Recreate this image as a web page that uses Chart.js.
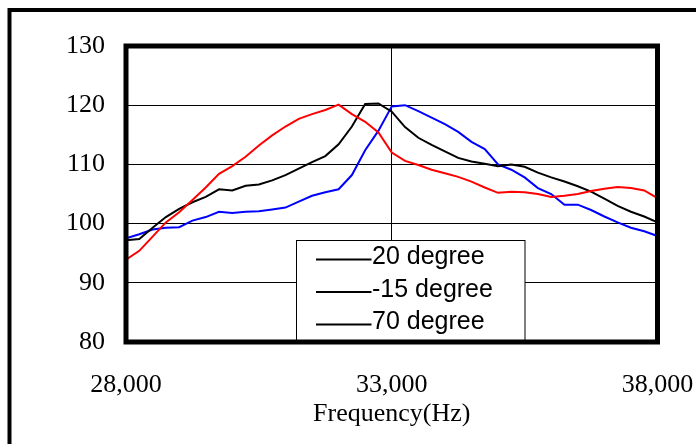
<!DOCTYPE html>
<html>
<head>
<meta charset="utf-8">
<script src="https://cdn.jsdelivr.net/npm/chart.js@4.4.1/dist/chart.umd.min.js"></script>
<style>
html,body{margin:0;padding:0;background:#fff;}
#wrap{width:696px;height:444px;position:relative;overflow:hidden;}
canvas{display:block;}
</style>
</head>
<body>
<div id="wrap"><canvas id="c" width="696" height="444"></canvas></div>
<script>
// ---- data ----
const frequencies = [28000,28250,28500,28750,29000,29250,29500,29750,30000,30250,
  30500,30750,31000,31250,31500,31750,32000,32250,32500,32750,
  33000,33250,33500,33750,34000,34250,34500,34750,35000,35250,
  35500,35750,36000,36250,36500,36750,37000,37250,37500,37750,38000];
const seriesLabels = ['20 degree', '-15 degree', '70 degree'];
const seriesRed = [93.9,95.4,97.8,100.2,101.9,104.0,106.1,108.4,109.7,111.3,
  113.2,114.9,116.4,117.7,118.5,119.2,120.1,118.5,117.2,115.4,
  112.0,110.6,109.9,109.1,108.5,107.9,107.1,106.1,105.2,105.4,
  105.3,105.0,104.5,104.7,105.0,105.5,105.9,106.2,106.0,105.6,104.3];
const seriesBlack = [97.2,97.4,99.3,101.1,102.5,103.6,104.5,105.8,105.6,106.4,
  106.6,107.3,108.2,109.3,110.4,111.4,113.4,116.4,120.2,120.3,
  118.9,116.3,114.5,113.3,112.2,111.1,110.5,110.1,109.7,110.0,
  109.6,108.6,107.8,107.1,106.3,105.4,104.2,103.0,102.0,101.2,100.2];
const seriesBlue = [97.5,98.2,99.0,99.3,99.4,100.5,101.1,102.0,101.8,102.0,
  102.1,102.4,102.7,103.7,104.7,105.3,105.8,108.2,112.4,115.7,
  119.8,120.0,119.0,117.9,116.8,115.5,113.8,112.6,110.0,109.1,
  107.8,106.0,105.0,103.2,103.2,102.3,101.2,100.2,99.3,98.7,97.9];
const xTicks = [28000, 33000, 38000];
const xTickLabels = ['28,000', '33,000', '38,000'];
const yTicks = [80, 90, 100, 110, 120, 130];
const xTitle = 'Frequency(Hz)';

const toPoints = vals => vals.map((v, i) => ({x: frequencies[i], y: v}));

const serif = "'Liberation Serif','Times New Roman',serif";
const sans = "'Liberation Sans',Arial,sans-serif";

const framePlugin = {
  id: 'frame',
  beforeDraw(chart) {
    const ctx = chart.ctx;
    ctx.save();
    ctx.fillStyle = '#fff';
    ctx.fillRect(0, 0, chart.width, chart.height);
    ctx.strokeStyle = '#000';
    ctx.lineWidth = 4;
    ctx.strokeRect(9.5, 10, chart.width + 40, chart.height + 40);
    ctx.restore();
  }
};

const legendBorderPlugin = {
  id: 'legendBorder',
  afterDatasetsDraw(chart) {
    const ctx = chart.ctx;
    const ca = chart.chartArea;
    ctx.save();
    // legend box
    const lx = ca.left + 170.5, ly = ca.top + 194.5;
    const lw = 228.5, lh = ca.bottom - ly;
    ctx.fillStyle = '#fff';
    ctx.fillRect(lx, ly, lw, lh);
    ctx.strokeStyle = '#000';
    ctx.lineWidth = 1;
    ctx.strokeRect(lx, ly, lw, lh);
    ctx.font = '25px ' + sans;
    ctx.textAlign = 'left';
    ctx.textBaseline = 'middle';
    ctx.fillStyle = '#000';
    chart.data.datasets.forEach((ds, i) => {
      const cy = ly + 17 + i * 32.5;
      ctx.beginPath();
      ctx.lineWidth = 2;
      ctx.strokeStyle = '#000';
      ctx.moveTo(lx + 19.5, cy + 2);
      ctx.lineTo(lx + 75, cy + 2);
      ctx.stroke();
      ctx.fillText(ds.label, lx + 75.5, cy);
    });
    // plot border
    ctx.strokeStyle = '#000';
    ctx.lineWidth = 5;
    ctx.strokeRect(ca.left, ca.top, ca.right - ca.left, ca.bottom - ca.top);
    ctx.restore();
  }
};

new Chart(document.getElementById('c'), {
  type: 'line',
  data: {
    datasets: [
      {label: seriesLabels[0], data: toPoints(seriesRed), borderColor: '#ff0000'},
      {label: seriesLabels[1], data: toPoints(seriesBlack), borderColor: '#000000'},
      {label: seriesLabels[2], data: toPoints(seriesBlue), borderColor: '#0000ff'}
    ]
  },
  options: {
    responsive: false,
    animation: false,
    devicePixelRatio: 1,
    layout: {padding: {left: 0, right: 38.5, top: 46, bottom: 0}},
    elements: {
      point: {radius: 0},
      line: {borderWidth: 2, tension: 0, fill: false}
    },
    plugins: {legend: {display: false}, tooltip: {enabled: false}},
    scales: {
      x: {
        type: 'linear',
        min: 28000,
        max: 38000,
        afterFit(scale) {
          scale.height = 102;
          scale.paddingLeft = 0; scale.paddingRight = 0;
        },
        afterBuildTicks(scale) { scale.ticks = xTicks.map(v => ({value: v})); },
        ticks: {
          autoSkip: false,
          maxRotation: 0,
          padding: 28,
          color: '#000',
          font: {family: serif, size: 26},
          callback: (v) => xTickLabels[xTicks.indexOf(v)]
        },
        grid: {color: '#000', lineWidth: 1, drawTicks: false},
        border: {display: false},
        title: {
          display: true,
          text: xTitle,
          color: '#000',
          font: {family: serif, size: 26},
          padding: {top: 0, bottom: 14}
        }
      },
      y: {
        type: 'linear',
        min: 80,
        max: 130,
        afterFit(scale) {
          scale.width = 126;
          scale.paddingTop = 0; scale.paddingBottom = 0;
        },
        afterBuildTicks(scale) { scale.ticks = yTicks.map(v => ({value: v})); },
        ticks: {
          padding: 21,
          color: '#000',
          font: {family: serif, size: 26}
        },
        grid: {color: '#000', lineWidth: 1, drawTicks: false},
        border: {display: false}
      }
    }
  },
  plugins: [framePlugin, legendBorderPlugin]
});
</script>
</body>
</html>
